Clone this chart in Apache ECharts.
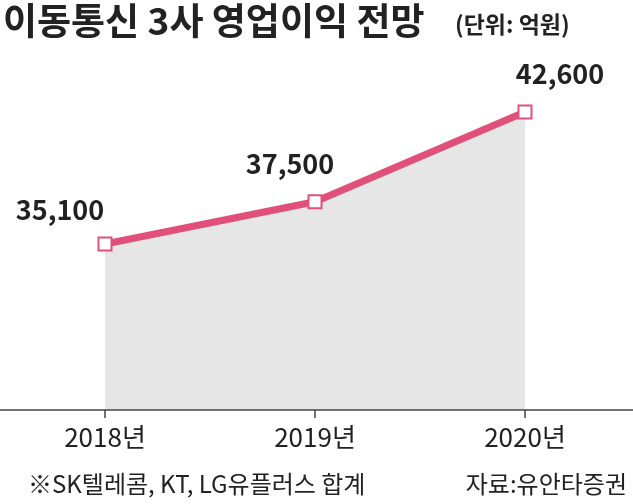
<!DOCTYPE html><html><head><meta charset="utf-8">
<script src="https://cdn.jsdelivr.net/npm/echarts@6/dist/echarts.min.js"></script>
<style>html,body{margin:0;padding:0;background:#fff}#c{width:633px;height:504px}</style></head><body><div id="c"></div>
<script>
const categories=['2018년','2019년','2020년'];
const profits=[35100,37500,42600];
const labelOffsets=[[-45,-8],[-25,-12],[35,-12]];
const chart=echarts.init(document.getElementById('c'));
const F='"Noto Sans CJK KR","Noto Sans",sans-serif';
chart.setOption({
 animation:false,
 grid:{left:105,right:108,top:60,bottom:94},
 title:[{text:'이동통신 3사 영업이익 전망',left:-2,top:-3,textStyle:{fontFamily:F,fontSize:37,fontWeight:'bold',color:'#222'}},
  {text:'(단위: 억원)',left:450,top:8,textStyle:{fontFamily:F,fontSize:23,fontWeight:'bold',color:'#222'}}],
 graphic:[
  {type:'line',shape:{x1:0,y1:410,x2:633,y2:410},style:{stroke:'#444',lineWidth:1.5},z:10},
  {type:'text',left:28,top:472,style:{text:'※SK텔레콤, KT, LG유플러스 합계',font:'24px '+F,fill:'#222'}},
  {type:'text',right:6,top:472,style:{text:'자료:유안타증권',font:'24px '+F,fill:'#222'}}
 ],
 xAxis:{type:'category',data:categories,boundaryGap:false,
  axisLine:{show:false},axisTick:{show:true,alignWithLabel:true,length:8,lineStyle:{color:'#444',width:1.5}},
  axisLabel:{fontFamily:F,fontSize:26,color:'#222',margin:14}},
 yAxis:{type:'value',min:25670,max:45555,show:false,splitLine:{show:false}},
 series:[{type:'line',data:profits.map((v,i)=>({value:v,label:{offset:labelOffsets[i]}})),
  symbol:'rect',symbolSize:13,
  itemStyle:{color:'#fff',borderColor:'#e0507a',borderWidth:2},
  lineStyle:{color:'#e0507a',width:7},
  areaStyle:{color:'#e6e6e6',opacity:1},
  label:{show:true,position:'top',formatter:p=>p.value.toLocaleString('en-US'),fontFamily:F,fontSize:27,fontWeight:'bold',color:'#222'}}]
});
</script></body></html>
